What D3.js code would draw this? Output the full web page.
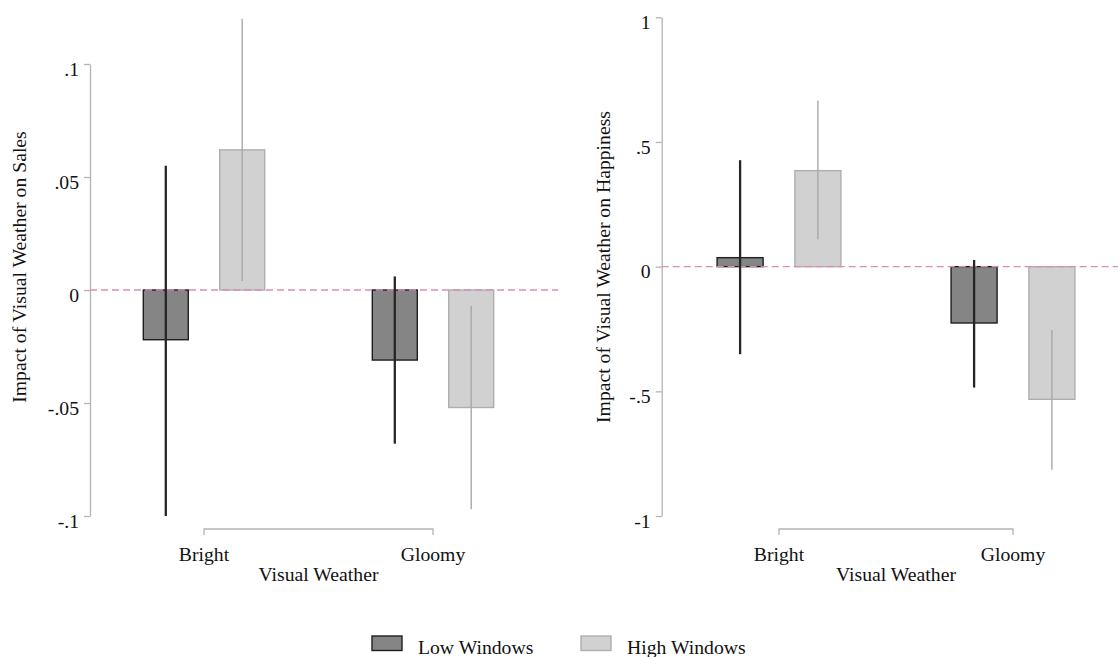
<!DOCTYPE html>
<html>
<head>
<meta charset="utf-8">
<script src="https://cdn.jsdelivr.net/npm/d3@7"></script>
<style>
  body { margin: 0; background: #fff; }
  svg text { font-family: 'Liberation Serif', 'Times New Roman', serif; fill: #111; }
</style>
</head>
<body>
<svg width="1118" height="657"></svg>
<script>
const width = 1118, height = 657

// Data
const categories = ['Bright', 'Gloomy'];
const series = ['Low Windows', 'High Windows'];

// Sales panel
const salesLow     = [-0.022, -0.031];
const salesLowLo   = [-0.100, -0.068];
const salesLowHi   = [ 0.055,  0.006];
const salesHigh    = [ 0.062, -0.052];
const salesHighLo  = [ 0.004, -0.097];
const salesHighHi  = [ 0.120, -0.007];
const salesTicks   = [-0.1, -0.05, 0, 0.05, 0.1];

// Happiness panel
const happyLow     = [ 0.036, -0.226];
const happyLowLo   = [-0.351, -0.485];
const happyLowHi   = [ 0.427,  0.027];
const happyHigh    = [ 0.385, -0.532];
const happyHighLo  = [ 0.110, -0.815];
const happyHighHi  = [ 0.666, -0.254];
const happyTicks   = [-1, -0.5, 0, 0.5, 1];

const styles = {
    'Low Windows':  { fill: '#858585', stroke: '#1e1e1e', ci: '#262626', ciW: 2.3 },
    'High Windows': { fill: '#d1d1d1', stroke: '#aeaeae', ci: '#a8a8a8', ciW: 1.4 }
};

const svg = d3.select('svg');
svg.append('rect').attr('width', width).attr('height', height).attr('fill', '#fff');

const fontSize = 19.7;

// strip the leading zero like ".05" / "-.5"
const fmt = d => d === 0 ? '0' : String(d).replace(/^(-?)0\./, '$1.');

function drawPanel(p) {
    const g = svg.append('g');

    const y = d3.scaleLinear().domain(p.yDomain).range(p.yRange);
    const x = d3.scalePoint().domain(categories).range(p.xRange);
    const sub = d3.scalePoint().domain(series).range([-p.offset, p.offset]);

    const rows = [];
    categories.forEach((c, i) => {
        rows.push({ cat: c, s: series[0], v: p.low[i],  lo: p.lowLo[i],  hi: p.lowHi[i] });
        rows.push({ cat: c, s: series[1], v: p.high[i], lo: p.highLo[i], hi: p.highHi[i] });
    });

    // y axis
    const axis = g.append('g')
        .attr('transform', `translate(${p.axisX},0)`)
        .call(d3.axisLeft(y).tickValues(p.ticks).tickFormat(fmt).tickSize(6).tickSizeOuter(0).tickPadding(5));
    axis.select('.domain').attr('stroke', '#b4b4b4').attr('stroke-width', 1.3);
    axis.selectAll('.tick line').attr('stroke', '#b4b4b4').attr('stroke-width', 1.3);
    axis.selectAll('.tick text')
        .attr('dy', '0.56em')
        .style('font-size', fontSize + 'px')
        .style('font-family', "'Liberation Serif', serif")
        .attr('fill', '#111');

    // bars
    g.selectAll('rect.bar')
        .data(rows)
        .enter()
        .append('rect')
        .attr('class', 'bar')
        .attr('x', d => x(d.cat) + sub(d.s) - p.barW / 2)
        .attr('width', p.barW)
        .attr('y', d => y(Math.max(0, d.v)))
        .attr('height', d => Math.abs(y(d.v) - y(0)))
        .attr('fill', d => styles[d.s].fill)
        .attr('stroke', d => styles[d.s].stroke)
        .attr('stroke-width', 1.4);

    // zero reference line
    g.append('line')
        .attr('x1', p.axisX).attr('x2', p.rightX)
        .attr('y1', y(0)).attr('y2', y(0))
        .attr('stroke', '#d98db8')
        .attr('stroke-width', 1.3)
        .attr('stroke-dasharray', '7,4');

    // confidence intervals
    g.selectAll('line.ci')
        .data(rows)
        .enter()
        .append('line')
        .attr('class', 'ci')
        .attr('x1', d => x(d.cat) + sub(d.s))
        .attr('x2', d => x(d.cat) + sub(d.s))
        .attr('y1', d => y(d.lo))
        .attr('y2', d => y(d.hi))
        .attr('stroke', d => styles[d.s].ci)
        .attr('stroke-width', d => styles[d.s].ciW);

    // x axis bracket
    const [x0, x1] = [x(categories[0]), x(categories[1])];
    g.append('path')
        .attr('d', `M${x0},535V529H${x1}V535`)
        .attr('fill', 'none')
        .attr('stroke', '#b4b4b4')
        .attr('stroke-width', 1.3);

    g.selectAll('text.cat')
        .data(categories)
        .enter()
        .append('text')
        .attr('class', 'cat')
        .attr('x', d => x(d))
        .attr('y', 561)
        .attr('text-anchor', 'middle')
        .style('font-size', fontSize + 'px')
        .text(d => d);

    g.append('text')
        .attr('x', (x0 + x1) / 2)
        .attr('y', 580.5)
        .attr('text-anchor', 'middle')
        .style('font-size', fontSize + 'px')
        .text('Visual Weather');

    g.append('text')
        .attr('transform', `translate(${p.titleX},267) rotate(-90)`)
        .attr('text-anchor', 'middle')
        .style('font-size', fontSize + 'px')
        .text(p.title);
}

drawPanel({
    title: 'Impact of Visual Weather on Sales',
    low: salesLow, lowLo: salesLowLo, lowHi: salesLowHi,
    high: salesHigh, highLo: salesHighLo, highHi: salesHighHi,
    ticks: salesTicks,
    yDomain: [-0.1, 0.1], yRange: [516, 64],
    xRange: [204, 433], offset: 38.2, barW: 45,
    axisX: 90, rightX: 558, titleX: 26
});

drawPanel({
    title: 'Impact of Visual Weather on Happiness',
    low: happyLow, lowLo: happyLowLo, lowHi: happyLowHi,
    high: happyHigh, highLo: happyHighLo, highHi: happyHighHi,
    ticks: happyTicks,
    yDomain: [-1, 1], yRange: [516, 17.3],
    xRange: [779, 1013], offset: 38.9, barW: 46,
    axisX: 661.7, rightX: 1118, titleX: 610
});

// legend
const legendX = [372, 581];
const legend = svg.selectAll('g.legend')
    .data(series)
    .enter()
    .append('g')
    .attr('class', 'legend')
    .attr('transform', (d, i) => `translate(${legendX[i]},636)`);

legend.append('rect')
    .attr('width', 30)
    .attr('height', 14.5)
    .attr('fill', d => styles[d].fill)
    .attr('stroke', d => styles[d].stroke)
    .attr('stroke-width', 1.4);

legend.append('text')
    .attr('x', 46)
    .attr('y', 18)
    .style('font-size', fontSize + 'px')
    .text(d => d);
</script>
</body>
</html>
